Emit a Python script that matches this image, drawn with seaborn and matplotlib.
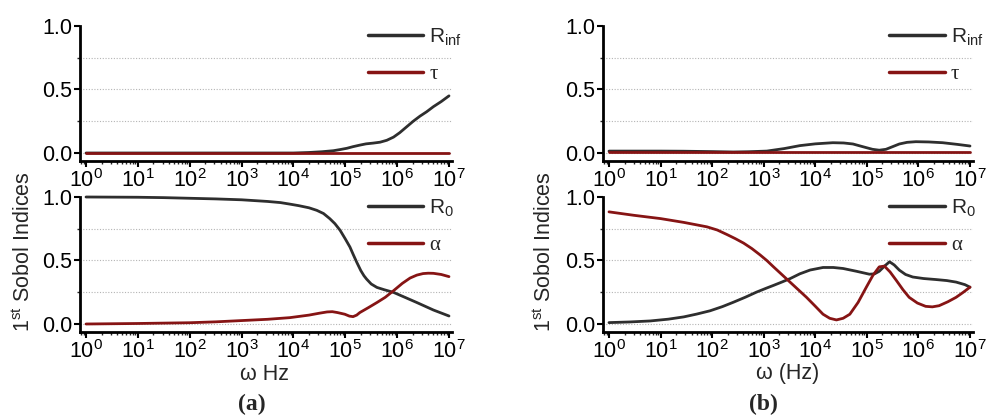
import numpy as np
import pandas as pd
import matplotlib
matplotlib.use("Agg")
import matplotlib.pyplot as plt
import matplotlib.ticker as mticker
import seaborn as sns

# ---------------- data (log10 of omega, Sobol index) ----------------
a_rinf_logw = [0, 1, 2, 3, 4, 4.3, 4.55, 4.77, 4.9, 5.03, 5.15, 5.28, 5.4, 5.54, 5.67, 5.80,
               5.93, 6.05, 6.18, 6.31, 6.44, 6.57, 6.7, 6.85, 7.0]
a_rinf = [0, 0, 0, 0, 0.0, 0.004, 0.01, 0.018, 0.027, 0.037, 0.05, 0.062, 0.072, 0.078, 0.085,
          0.10, 0.125, 0.16, 0.205, 0.25, 0.29, 0.325, 0.365, 0.405, 0.45]
a_tau_logw = [0, 1, 2, 3, 4, 5, 6, 7]
a_tau = [0, 0, 0, 0, 0, 0, 0, 0]

a_r0_logw = [0, 0.5, 1, 1.5, 2, 2.5, 3, 3.5, 3.75, 3.93, 4.1, 4.3, 4.45, 4.58, 4.7, 4.8, 4.9,
             5.0, 5.09, 5.15, 5.22, 5.3, 5.36, 5.41, 5.5, 5.61, 5.75, 5.93, 6.15, 6.38, 6.7, 7.0]
a_r0 = [1.0, 0.999, 0.998, 0.995, 0.99, 0.985, 0.978, 0.965, 0.956, 0.944, 0.932, 0.915, 0.895,
        0.87, 0.83, 0.79, 0.738, 0.67, 0.606, 0.55, 0.487, 0.42, 0.38, 0.354, 0.315, 0.288,
        0.27, 0.249, 0.21, 0.169, 0.11, 0.063]
a_alpha_logw = [0, 1, 2, 2.5, 3, 3.5, 3.93, 4.3, 4.5, 4.65, 4.75, 4.85, 4.99, 5.08, 5.15, 5.22,
                5.28, 5.45, 5.61, 5.77, 5.93, 6.1, 6.25, 6.38, 6.5, 6.6, 6.7, 6.85, 7.0]
a_alpha = [0.0, 0.004, 0.01, 0.017, 0.027, 0.037, 0.05, 0.07, 0.085, 0.095, 0.097, 0.09, 0.077,
           0.062, 0.058, 0.07, 0.09, 0.13, 0.169, 0.21, 0.262, 0.32, 0.362, 0.385, 0.397, 0.40,
           0.399, 0.39, 0.373]

b_rinf_logw = [0, 1, 1.45, 2, 2.41, 2.7, 3.06, 3.4, 3.7, 4.0, 4.34, 4.55, 4.73, 4.9, 5.11, 5.24,
               5.37, 5.5, 5.63, 5.78, 5.95, 6.2, 6.47, 6.75, 7.0]
b_rinf = [0.015, 0.015, 0.014, 0.011, 0.008, 0.01, 0.015, 0.035, 0.058, 0.072, 0.081, 0.079,
          0.071, 0.052, 0.029, 0.022, 0.029, 0.05, 0.071, 0.084, 0.089, 0.087, 0.081, 0.068, 0.055]
b_tau_logw = [0, 1, 2, 3, 4, 5, 6, 7]
b_tau = [0.005, 0.005, 0.005, 0.005, 0.005, 0.005, 0.005, 0.005]

b_r0_logw = [0, 0.4, 0.8, 1.15, 1.45, 1.7, 1.96, 2.2, 2.41, 2.65, 2.86, 3.05, 3.19, 3.35, 3.51,
             3.7, 3.9, 4.15, 4.35, 4.54, 4.8, 5.05, 5.15, 5.24, 5.34, 5.44, 5.53, 5.63, 5.75,
             5.89, 6.1, 6.34, 6.55, 6.73, 6.9, 7.0]
b_r0 = [0.011, 0.016, 0.024, 0.038, 0.056, 0.078, 0.104, 0.137, 0.171, 0.212, 0.251, 0.282,
        0.304, 0.33, 0.357, 0.395, 0.425, 0.445, 0.445, 0.437, 0.415, 0.392, 0.395, 0.415,
        0.455, 0.49, 0.465, 0.424, 0.39, 0.37, 0.358, 0.35, 0.342, 0.33, 0.31, 0.29]
b_alpha_logw = [0, 0.48, 1.0, 1.45, 1.9, 2.1, 2.29, 2.45, 2.61, 2.77, 2.93, 3.06, 3.19, 3.35,
                3.51, 3.67, 3.83, 4.0, 4.15, 4.28, 4.41, 4.54, 4.67, 4.83, 4.99, 5.12, 5.24,
                5.34, 5.45, 5.57, 5.7, 5.82, 5.98, 6.14, 6.27, 6.40, 6.57, 6.73, 6.87, 7.0]
b_alpha = [0.883, 0.856, 0.83, 0.80, 0.765, 0.74, 0.704, 0.672, 0.637, 0.594, 0.544, 0.50,
           0.45, 0.39, 0.33, 0.27, 0.21, 0.14, 0.077, 0.045, 0.032, 0.045, 0.077, 0.17, 0.29,
           0.385, 0.45, 0.456, 0.41, 0.344, 0.27, 0.21, 0.165, 0.139, 0.135, 0.144, 0.175,
           0.21, 0.25, 0.29]

x_ticks_exp = [0, 1, 2, 3, 4, 5, 6, 7]
y_major = [0.0, 0.5, 1.0]
grid_levels = [0.0, 0.25, 0.5, 0.75]

labels_top = ["R$_{\\rm inf}$", "τ"]
labels_bot = ["R$_{\\rm 0}$", "α"]
xlabels = ["ω Hz", "ω (Hz)"]
ylabel = "1$^{\\rm st}$ Sobol Indices"
panel_tags = ["(a)", "(b)"]

BLACK = "#2e2e2e"
RED = "#861414"

# ---------------- style ----------------
sns.set_style("ticks")
plt.rcParams["font.family"] = ["Liberation Sans", "DejaVu Sans"]
plt.rcParams["mathtext.fontset"] = "custom"
plt.rcParams["mathtext.rm"] = "Liberation Sans"
plt.rcParams["mathtext.it"] = "Liberation Sans:italic"
plt.rcParams["mathtext.bf"] = "Liberation Sans:bold"

W, H = 987, 417
fig = plt.figure(figsize=(W / 100, H / 100), dpi=100)


def rect(l, r, t, b):
    return [l / W, 1 - b / H, (r - l) / W, (b - t) / H]


ax_at = fig.add_axes(rect(80, 452, 26, 161))
ax_ab = fig.add_axes(rect(80, 452, 197, 332))
ax_bt = fig.add_axes(rect(603, 973, 26, 161))
ax_bb = fig.add_axes(rect(603, 973, 197, 332))

series = [
    (ax_at, [(a_rinf_logw, a_rinf, BLACK, labels_top[0]), (a_tau_logw, a_tau, RED, labels_top[1])]),
    (ax_ab, [(a_r0_logw, a_r0, BLACK, labels_bot[0]), (a_alpha_logw, a_alpha, RED, labels_bot[1])]),
    (ax_bt, [(b_rinf_logw, b_rinf, BLACK, labels_top[0]), (b_tau_logw, b_tau, RED, labels_top[1])]),
    (ax_bb, [(b_r0_logw, b_r0, BLACK, labels_bot[0]), (b_alpha_logw, b_alpha, RED, labels_bot[1])]),
]

for ax, lines in series:
    for lw_, vals, col, lab in lines:
        df = pd.DataFrame({"omega": np.power(10.0, lw_), "S": vals})
        sns.lineplot(data=df, x="omega", y="S", ax=ax, color=col, linewidth=2.0,
                     label=lab, clip_on=False)
    for ln in ax.get_lines():
        ln.set_solid_joinstyle("round")
    ax.set_xscale("log")
    ax.set_xlim(10 ** -0.116, 10 ** 7.058)
    ax.set_ylim(-0.063, 1.0)
    for g in grid_levels:
        ax.axhline(g, color="#b4b4b4", linestyle=(0, (1, 1.5)), linewidth=0.8, zorder=0)
    ax.set_xticks([10.0 ** e for e in x_ticks_exp])
    ax.xaxis.set_major_formatter(mticker.LogFormatterSciNotation())
    ax.xaxis.set_minor_locator(mticker.LogLocator(base=10, subs=np.arange(2, 10), numticks=20))
    ax.xaxis.set_minor_formatter(mticker.NullFormatter())
    ax.set_yticks(y_major)
    ax.set_yticklabels([f"{v:.1f}" for v in y_major])
    ax.yaxis.set_minor_locator(mticker.MultipleLocator(0.25))
    ax.tick_params(axis="both", which="major", direction="out", length=4, width=1.5,
                   labelsize=15.5, pad=1.5, colors="black")
    ax.tick_params(axis="both", which="minor", direction="out", length=2.5, width=1.0)
    for s in ["top", "right"]:
        ax.spines[s].set_visible(False)
    for s in ["left", "bottom"]:
        ax.spines[s].set_linewidth(2.0)
        ax.spines[s].set_color("black")
    ax.set_xlabel("")
    ax.set_ylabel("")
    leg = ax.legend(loc="upper left", bbox_to_anchor=(0.774, 0.995), frameon=False,
                    fontsize=15, handlelength=2.65, handletextpad=0.3,
                    labelspacing=0.8, borderpad=0, borderaxespad=0)
    for ln in leg.get_lines():
        ln.set_linewidth(2.5)
    leg.get_texts()[1].set_fontfamily(["Liberation Serif", "DejaVu Serif"])

for ax, xl, cx in [(ax_ab, xlabels[0], 265), (ax_bb, xlabels[1], 788)]:
    fig.text(cx / W, 1 - 374 / H, xl, ha="center", va="center", fontsize=15.5)

fig.text(24 / W, 1 - 252 / H, ylabel, rotation=90, ha="center", va="center", fontsize=15.5)
fig.text(545 / W, 1 - 252 / H, ylabel, rotation=90, ha="center", va="center", fontsize=15.5)

fig.text(252 / W, 1 - 404 / H, panel_tags[0], ha="center", va="center", fontsize=17,
         family=["Liberation Serif"], fontweight="bold")
fig.text(763 / W, 1 - 404 / H, panel_tags[1], ha="center", va="center", fontsize=17,
         family=["Liberation Serif"], fontweight="bold")

fig.savefig("out.png", dpi=100)
